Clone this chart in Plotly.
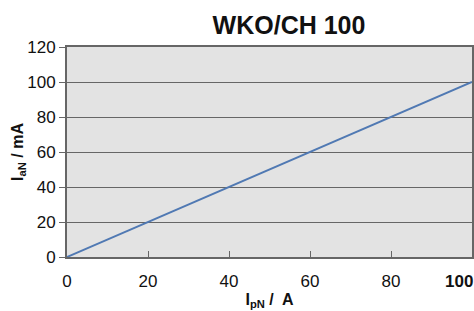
import plotly.graph_objects as go

x_vals = [0, 100]
y_vals = [0, 100]
x_ticks = [0, 20, 40, 60, 80]
x_tick_text = ["0", "20", "40", "60", "80"]
x_last_tick = 100
x_last_text = "<b>100</b>"
y_ticks = [0, 20, 40, 60, 80, 100, 120]

fig = go.Figure()
fig.add_trace(go.Scatter(x=x_vals, y=y_vals, mode="lines",
                         line=dict(color="#5079b3", width=2), showlegend=False))

fig.update_layout(
    width=474, height=311,
    margin=dict(l=67, r=2, t=47, b=54),
    paper_bgcolor="white",
    plot_bgcolor="#e3e3e3",
    font=dict(family="Liberation Sans, Arial", size=17, color="#111"),
    title=dict(text="<b>WKO/CH 100</b>", x=289/474, xanchor="center",
               y=1-25/311, yanchor="middle", font=dict(size=25, color="#111")),
)
fig.update_xaxes(range=[0, 100], tickvals=x_ticks, ticktext=x_tick_text,
                 ticks="inside", ticklen=6, tickcolor="#666", tickwidth=1,
                 ticklabelstandoff=8, automargin=False,
                 showgrid=False, showline=True, linecolor="#666", linewidth=2, mirror=True,
                 zeroline=False,
                 title=dict(text="<b>I<sub>pN</sub> /  A</b>", font=dict(size=16), standoff=3))
fig.update_yaxes(range=[0, 120], tickvals=y_ticks, automargin=False,
                 ticks="outside", ticklen=6, tickcolor="#666", tickwidth=1,
                 showgrid=True, gridcolor="#666", gridwidth=1,
                 showline=True, linecolor="#666", linewidth=2, mirror=True,
                 zeroline=False,
                 title=dict(text="<b>I<sub>aN</sub> / mA</b>", font=dict(size=16), standoff=0))
fig.add_annotation(x=x_last_tick, y=0, xref="x", yref="y", text=x_last_text,
                   showarrow=False, xanchor="right", yanchor="top", yshift=-13,
                   xshift=3, font=dict(size=17, color="#111"))

fig.write_html("out.html", config={"displayModeBar": False},
               post_script="document.body.style.margin='0';document.body.style.overflow='hidden';")
